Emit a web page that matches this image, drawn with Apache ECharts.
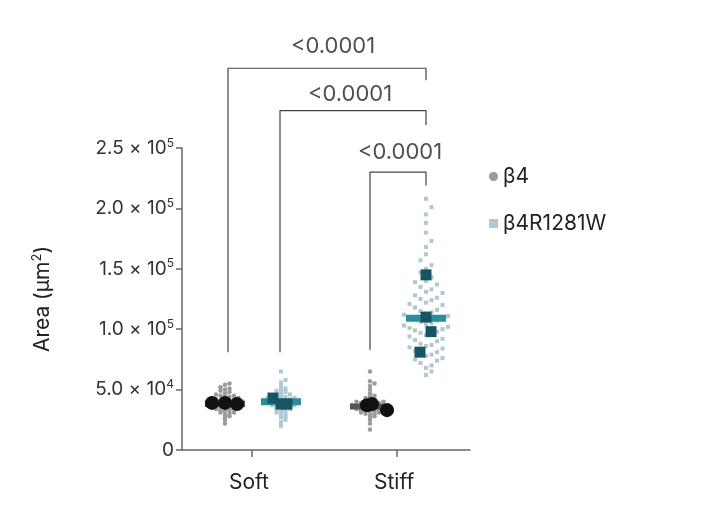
<!DOCTYPE html><html><head><meta charset="utf-8"><script src="https://cdn.jsdelivr.net/npm/echarts@6/dist/echarts.min.js"></script></head><body style="margin:0;background:#fff"><div id="c" style="width:704px;height:517px"></div><script>
const categories=['Soft','Stiff'];
const catPos=[70,215];
const groupOffset=[-27,29];
const softB4=[22,25,27,28,29,30,31,31,32,33,33,34,34,35,35,35,36,36,37,37,37,38,38,38,39,39,39,40,40,40,41,41,41,42,42,43,43,44,44,45,45,46,47,48,49,50,51,52,54,55];
const softR=[20,23,25,27,28,29,30,31,32,33,34,34,35,35,36,36,37,37,38,38,38,39,39,39,40,40,40,41,41,41,42,42,43,43,44,44,45,46,47,48,49,50,51,53,56,58,65];
const stiffB4=[17,22,25,27,28,29,30,30,31,31,32,32,33,33,33,34,34,34,35,35,35,36,36,36,37,37,37,38,38,38,39,39,40,40,41,42,43,44,45,47,50,53,55,57,65];
const stiffR=[62,65,68,70,72,74,75,76,78,79,80,81,82,84,85,86,87,88,90,91,92,94,95,96,97,98,99,100,101,102,103,104,105,106,107,108,109,110,111,112,113,114,115,116,118,120,121,122,124,125,126,128,130,131,133,135,137,139,140,143,147,150,153,157,162,168,173,180,188,195,201,208];
const meansB4=[[39,39,38],[37,38,33]];
const meansR=[[43,38,38],[145,110,98,81]];
const medB4=[38,36];
const medR=[40,109];
const pvals=['<0.0001','<0.0001','<0.0001'];
function swarm(vals,cx,bw,sp){const bins={};return vals.map(v=>{const b=Math.round(v/bw);const n=bins[b]||0;bins[b]=n+1;const off=(n%2?1:-1)*Math.ceil(n/2)*sp;return [cx+off,v*1000];});}
const K=v=>v*1000;
function meanPts(arr,cx,offs){return arr.map((v,i)=>[cx+offs[i],K(v)]);}
const series=[
{type:'scatter',name:'β4',data:swarm(softB4,catPos[0]+groupOffset[0],3,4.5).concat(swarm(stiffB4,catPos[1]+groupOffset[0],3,4.5)),symbolSize:4.5,itemStyle:{color:'#9a9a9a',opacity:1},z:2},
{type:'scatter',name:'β4R1281W',symbol:'rect',data:swarm(softR,catPos[0]+groupOffset[1],3,4.5).concat(swarm(stiffR,catPos[1]+groupOffset[1],9,5.5)),symbolSize:4,itemStyle:{color:'#b0c8d3',opacity:1},z:2},
{type:'scatter',symbol:'rect',symbolSize:[40,7],data:[[catPos[0]+groupOffset[1],K(medR[0])],[catPos[1]+groupOffset[1],K(medR[1])]],itemStyle:{color:'#2a8d9c',opacity:1},z:3},
{type:'scatter',symbol:'rect',symbolSize:[40,6],data:[[catPos[0]+groupOffset[0],K(medB4[0])],[catPos[1]+groupOffset[0],K(medB4[1])]],itemStyle:{color:'#555',opacity:1},z:3},
{type:'scatter',symbolSize:14,data:meanPts(meansB4[0],catPos[0]+groupOffset[0],[-13,0,12]).concat(meanPts(meansB4[1],catPos[1]+groupOffset[0],[-3,2,17])),itemStyle:{color:'#111',opacity:1},z:4},
{type:'scatter',symbol:'rect',symbolSize:11,data:meanPts(meansR[0],catPos[0]+groupOffset[1],[-8,0,6]).concat(meanPts(meansR[1],catPos[1]+groupOffset[1],[0,0,5,-6])),itemStyle:{color:'#175565',opacity:1},z:4}
];
const brackets=[[228,81,316,426,306],[280,81,281,426,269],[370,83,230,426,219]];
brackets.forEach(b=>series.push({type:'line',silent:true,clip:false,symbol:'none',lineStyle:{color:'#444',width:1.2},data:[[b[0]-182,K(b[1])],[b[0]-182,K(b[2])],[b[3]-182,K(b[2])],[b[3]-182,K(b[4])]],z:1}));
const labelY=[334,294,246],labelX=[333,350,400];
series.push({type:'scatter',silent:true,clip:false,symbolSize:0,data:labelY.map((y,i)=>[labelX[i]-182,K(y)]),label:{show:true,position:'inside',formatter:p=>pvals[p.dataIndex],fontSize:22,color:'#222',fontFamily:'Inter'}});
const chart=echarts.init(document.getElementById('c'));
chart.setOption({animation:false,
grid:{left:182,right:234,top:148,bottom:67},
legend:{data:[{name:'β4',icon:'circle'},{name:'β4R1281W',icon:'rect'}],orient:'vertical',left:484,top:161,itemWidth:9,itemHeight:9,itemGap:26,textStyle:{fontSize:21,color:'#222',fontFamily:'Inter'}},
xAxis:{type:'value',min:0,max:288,axisLine:{show:true,lineStyle:{color:'#666',width:1.5}},splitLine:{show:false},axisTick:{show:false},axisLabel:{show:false}},
yAxis:{type:'value',min:0,max:250000,interval:50000,name:'Area (µm{s|2})',nameLocation:'middle',nameGap:128,nameTextStyle:{fontSize:21,color:'#222',fontFamily:'Inter',rich:{s:{fontSize:13,verticalAlign:'top',padding:[0,0,10,0]}}},
axisLine:{show:true,lineStyle:{color:'#666',width:1.5}},axisTick:{show:true,length:6,lineStyle:{color:'#666',width:1.5}},splitLine:{show:false},
axisLabel:{fontSize:19,color:'#333',fontFamily:'Inter',formatter:v=>{if(v===0)return '0';const e=Math.floor(Math.log10(v));const m=(v/Math.pow(10,e)).toFixed(1);return m+' × 10{s|'+e+'}';},rich:{s:{fontSize:12,verticalAlign:'top',padding:[0,0,10,0],color:'#333'}}}},
graphic:categories.map((c,i)=>({type:'group',children:[{type:'text',left:182+catPos[i]-23,top:472,style:{text:c,fontSize:21,fill:'#222',fontFamily:'Inter'}},{type:'line',shape:{x1:182+catPos[i],y1:450,x2:182+catPos[i],y2:457},style:{stroke:'#666',lineWidth:1.5}}]})),
series:series});
</script></body></html>
